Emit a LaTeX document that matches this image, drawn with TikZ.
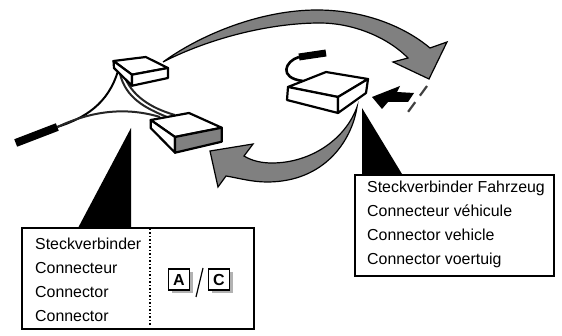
\documentclass[tikz,border=0pt]{standalone}
\usepackage{fontspec}
\setmainfont{Liberation Sans}
\tikzset{
  blk/.style={draw=black,line width=2.2pt,line join=round,fill=white},
  grayarrow/.style={draw=black,line width=1.2pt,fill=black!50,line join=miter},
  wire/.style={draw=black,line width=2pt},
  wiredark/.style={draw=black!85,line width=2pt},
  plug/.style={draw=black,line width=8pt},
  ptr/.style={fill=black},
  label/.style={inner sep=0pt,anchor=base west,font=\fontsize{15.9pt}{18pt}\selectfont},
  panel/.style={draw=black,line width=2.4pt,fill=white},
  keybox/.style={draw=black,line width=1.3pt,fill=white,minimum size=21pt,inner sep=0pt,font=\bfseries\fontsize{16pt}{18pt}\selectfont},
  keyshadow/.style={fill=black!30}
}
\begin{document}
\begin{tikzpicture}[x=1pt,y=-1pt]
\useasboundingbox (0,0) rectangle (562,336);
% anchors
\coordinate (plugA) at (15.7,143);
\coordinate (plugB) at (57.3,127);
\coordinate (smallL) at (118,71);
\coordinate (smallM) at (120,74);
\coordinate (smallN) at (124,75);
\coordinate (bigL) at (160,117);
\coordinate (bigM) at (167,117);
\coordinate (bigN) at (175,115);
\coordinate (plugC) at (299,57);
\coordinate (plugD) at (326,53);
\coordinate (boxTop) at (303,81);
% wires
\draw[wire] (plugB) .. controls (85,118) and (108,104) .. (smallL);
\draw[wiredark] (plugB) .. controls (85,114) and (120,105) .. (bigL);
\draw[wiredark] (smallM) .. controls (126,98) and (145,108) .. (bigM);
\draw[wiredark] (smallN) .. controls (131,95) and (150,108) .. (bigN);
\draw[plug] (plugA) -- (plugB);
% small box
\draw[blk] (113.5,61) -- (145.7,57) -- (168,68) -- (132,74.7) -- cycle;
\draw[blk] (113.5,61) -- (114,68) -- (132,85.7) -- (132,74.7) -- cycle;
\draw[blk] (132,74.7) -- (168,68) -- (168,78) -- (132,85.7) -- cycle;
% big box
\draw[blk] (150.7,120) -- (189,113) -- (221.7,127.7) -- (175,137) -- cycle;
\draw[blk] (150.7,120) -- (150.7,128) -- (175,152.7) -- (175,137) -- cycle;
\draw[blk,fill=black!50] (175,137) -- (221.7,127.7) -- (221.7,141.7) -- (175,152.7) -- cycle;
% top arrow
\draw[grayarrow] (163,62) .. controls (200,35) and (260,10) .. (317,10)
  .. controls (365,10) and (405,27) .. (430,48)
  -- (447,42) -- (429,79) -- (393,62) -- (408,58)
  .. controls (385,35) and (350,23) .. (320,23)
  .. controls (270,23) and (210,38) .. cycle;
% right plug and wire
\draw[wire,line width=2.6pt] (plugC) .. controls (285,61) and (278,78) .. (boxTop);
\draw[plug,line width=7pt] (plugC) -- (plugD);
% right box
\draw[blk] (288,87) -- (326,72) -- (368,79) -- (338,97) -- cycle;
\draw[blk] (288,87) -- (287,100) -- (338,113) -- (338,97) -- cycle;
\draw[blk] (338,97) -- (368,79) -- (366,93) -- (338,113) -- cycle;
% lower arrow
\draw[grayarrow] (357,107) .. controls (352,140) and (325,182) .. (267,182)
  .. controls (252,182) and (238,178) .. (226,176)
  -- (218,187) -- (210,151) -- (253,144) -- (244,156)
  .. controls (252,161) and (262,163) .. (272,163)
  .. controls (310,163) and (345,140) .. cycle;
% block arrow
\fill[black] (372,97) -- (400,86) -- (397,92) -- (414,93) -- (408,102) -- (388,102) -- (382,109) -- cycle;
\draw[draw=black!75,line width=2.2pt,dash pattern=on 12pt off 8pt] (427,86) -- (408,112);
% pointers
\fill[ptr] (131,128) -- (78,228) -- (131,228) -- cycle;
\fill[ptr] (362,108) -- (362,174) -- (402,174) -- cycle;
% left panel
\node[panel,minimum width=232pt,minimum height=101pt,inner sep=0pt,anchor=north west] (panelL) at (21,227) {};
\draw[black,line width=1.2pt,dash pattern=on 1.5pt off 2pt] (150,229) -- (150,327);
\node[label] (l1) at (35,250) {Steckverbinder};
\node[label] (l2) at (35,274) {Connecteur};
\node[label] (l3) at (35,298) {Connector};
\node[label] (l4) at (35,322) {Connector};
\fill[keyshadow] (171.5,272.5) rectangle (192.5,293.5);
\fill[keyshadow] (211.5,272.5) rectangle (232.5,293.5);
\node[keybox] (keyA) at (179,279.5) {A};
\node[keybox] (keyC) at (219,279.5) {C};
\draw[black,line width=1.2pt] (203,268) -- (196,297);
% right panel
\node[panel,minimum width=199pt,minimum height=101pt,inner sep=0pt,anchor=north west] (panelR) at (354,174) {};
\node[label] (r1) at (367,193) {Steckverbinder Fahrzeug};
\node[label] (r2) at (367,217) {Connecteur véhicule};
\node[label] (r3) at (367,241) {Connector vehicle};
\node[label] (r4) at (367,265) {Connector voertuig};
\end{tikzpicture}
\end{document}
